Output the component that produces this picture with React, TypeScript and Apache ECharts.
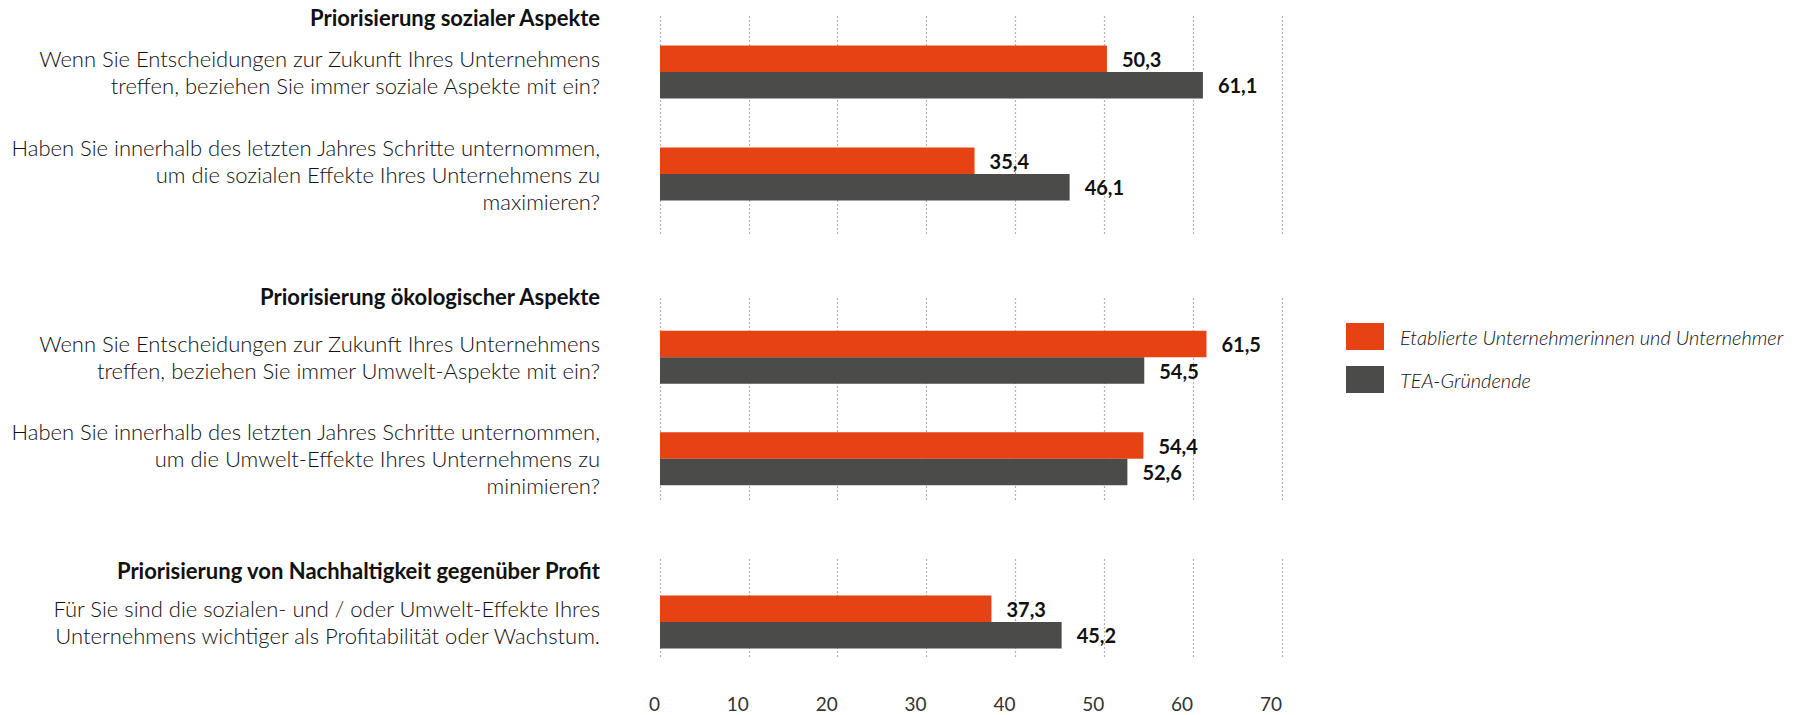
import React, { useEffect, useRef } from "react";
import * as echarts from "echarts";

const seriesNames = ["Etablierte Unternehmerinnen und Unternehmer", "TEA-Gründende"];
const groupTitles = [
  "Priorisierung sozialer Aspekte",
  "Priorisierung ökologischer Aspekte",
  "Priorisierung von Nachhaltigkeit gegenüber Profit",
];
const questions1 = [
  "Wenn Sie Entscheidungen zur Zukunft Ihres Unternehmens\ntreffen, beziehen Sie immer soziale Aspekte mit ein?",
  "Haben Sie innerhalb des letzten Jahres Schritte unternommen,\num die sozialen Effekte Ihres Unternehmens zu\nmaximieren?",
];
const questions2 = [
  "Wenn Sie Entscheidungen zur Zukunft Ihres Unternehmens\ntreffen, beziehen Sie immer Umwelt-Aspekte mit ein?",
  "Haben Sie innerhalb des letzten Jahres Schritte unternommen,\num die Umwelt-Effekte Ihres Unternehmens zu\nminimieren?",
];
const questions3 = [
  "Für Sie sind die sozialen- und / oder Umwelt-Effekte Ihres\nUnternehmens wichtiger als Profitabilität oder Wachstum.",
];
const etabliert1 = [50.3, 35.4];
const tea1 = [61.1, 46.1];
const etabliert2 = [61.5, 54.4];
const tea2 = [54.5, 52.6];
const etabliert3 = [37.3];
const tea3 = [45.2];
const xTicks = [0, 10, 20, 30, 40, 50, 60, 70];

const FONT = "Lato, 'Open Sans', sans-serif";
const ORANGE = "#E64214";
const GREY = "#4B4B4A";

export default function App() {
  const ref = useRef<HTMLDivElement>(null);
  useEffect(() => {
    document.body.style.margin = "0";
    const chart = echarts.init(ref.current!, null, { renderer: "svg" });
    const xMin = xTicks[0];
    const xMax = xTicks[xTicks.length - 1];
    const left = 660;
    const width = 622;
    const lineGrids = [
      { top: 16, height: 220 },
      { top: 298, height: 202 },
      { top: 559, height: 100 },
    ];
    const barGrids = [
      { top: 21, height: 204 },
      { top: 306.5, height: 203 },
      { top: 571, height: 102 },
    ];
    const groups = [
      { q: questions1, a: etabliert1, b: tea1 },
      { q: questions2, a: etabliert2, b: tea2 },
      { q: questions3, a: etabliert3, b: tea3 },
    ];
    const grid: any[] = [];
    const xAxis: any[] = [];
    const yAxis: any[] = [];
    const series: any[] = [];
    lineGrids.forEach((g, i) => {
      grid.push({ left, width, top: g.top, height: g.height });
      xAxis.push({
        type: "value",
        gridIndex: i,
        min: xMin,
        max: xMax,
        interval: 10,
        axisLine: { show: false },
        axisTick: { show: false },
        splitLine: { show: true, lineStyle: { color: "#b4b4b4", width: 1.2, type: [2, 2] } },
        axisLabel: {
          show: i === 2,
          margin: 35,
          align: "right",
          fontSize: 19,
          lineHeight: 19,
          fontFamily: FONT,
          color: "#333",
        },
      });
      yAxis.push({ type: "value", gridIndex: i, min: 0, max: 1, show: false });
    });
    const fmt = (p: any) => Number(p.value).toFixed(1).replace(".", ",");
    barGrids.forEach((g, j) => {
      const gi = 3 + j;
      grid.push({ left, width, top: g.top, height: g.height });
      xAxis.push({ type: "value", gridIndex: gi, min: xMin, max: xMax, show: false });
      yAxis.push({
        type: "category",
        gridIndex: gi,
        inverse: true,
        data: groups[j].q,
        axisLine: { show: false },
        axisTick: { show: false },
        axisLabel: {
          margin: 60,
          fontSize: 22,
          lineHeight: 27,
          fontFamily: FONT,
          fontWeight: 300,
          color: "#111",
          align: "right",
        },
      });
      const label = {
        show: true,
        position: "right",
        distance: 15,
        fontSize: 20,
        fontWeight: "bold",
        fontFamily: FONT,
        color: "#111",
        formatter: fmt,
      };
      series.push({
        type: "bar",
        name: seriesNames[0],
        xAxisIndex: gi,
        yAxisIndex: gi,
        data: groups[j].a,
        barWidth: 26.5,
        barGap: "0%",
        itemStyle: { color: ORANGE },
        label,
      });
      series.push({
        type: "bar",
        name: seriesNames[1],
        xAxisIndex: gi,
        yAxisIndex: gi,
        data: groups[j].b,
        barWidth: 26.5,
        barGap: "0%",
        itemStyle: { color: GREY },
        label,
      });
    });
    const titleY = [17, 296, 570];
    chart.setOption({
      animation: false,
      grid,
      xAxis,
      yAxis,
      series,
      legend: {
        data: seriesNames,
        orient: "vertical",
        left: 1346,
        top: 323,
        padding: 0,
        itemWidth: 38,
        itemHeight: 27,
        itemGap: 16,
        icon: "rect",
        selectedMode: false,
        textStyle: {
          fontSize: 20,
          fontStyle: "italic",
          fontWeight: 300,
          fontFamily: FONT,
          color: "#111",
          padding: [0, 0, 0, 11],
        },
      },
      graphic: groupTitles.map((t, i) => ({
        type: "text",
        x: 600,
        y: titleY[i],
        style: {
          text: t,
          fontSize: 22,
          fontWeight: "bold",
          fontFamily: FONT,
          fill: "#111",
          textAlign: "right",
          textVerticalAlign: "middle",
        },
      })),
    });
    return () => chart.dispose();
  }, []);
  return <div ref={ref} style={{ width: 1798, height: 715 }} />;
}
